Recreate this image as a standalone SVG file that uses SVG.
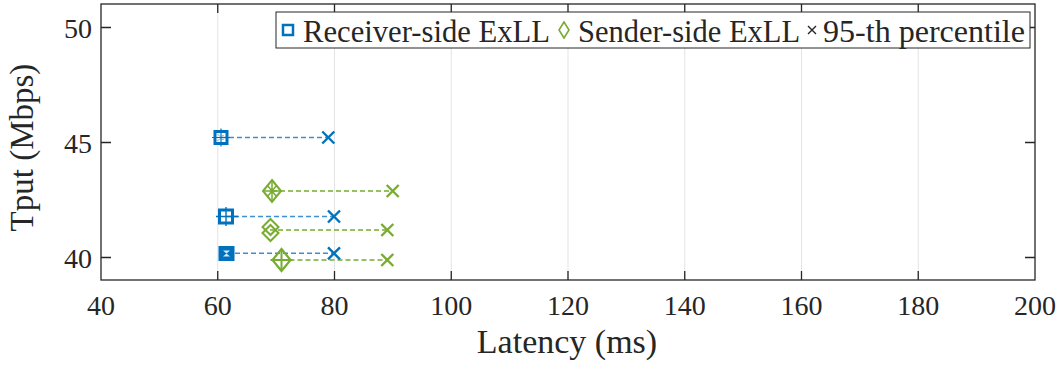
<svg xmlns="http://www.w3.org/2000/svg" width="1064" height="365" viewBox="0 0 1064 365">
  <style>
    .lbl { font-family: "Liberation Serif", "Times New Roman", serif; fill: #262626; }
    .tick { font-size: 28px; }
    .leg { font-size: 31px; }
    .grid { stroke: #e3e3e3; stroke-width: 1; }
    .axis { stroke: #262626; stroke-width: 1.3; fill: none; }
    .blue { stroke: #0072BD; fill: none; }
    .green { stroke: #77AC30; fill: none; }
    .dashb { stroke: #3d8fcf; stroke-width: 1.4; stroke-dasharray: 5 3; }
    .dashg { stroke: #77AC30; stroke-width: 1.4; stroke-dasharray: 5 3; }
    .xm { stroke-width: 2.4; }
  </style>
  <defs>
    <path id="xmark" d="M-6,-6 L6,6 M-6,6 L6,-6"/>
    <path id="dia" d="M0,-11 L9,0 L0,11 L-9,0 Z"/>
  </defs>
  <rect width="1064" height="365" fill="#ffffff"/>

  <!-- vertical grid at x ticks -->
  <g id="grid">
    <line class="grid" x1="217.75" y1="4" x2="217.75" y2="280"/>
    <line class="grid" x1="334.5" y1="4" x2="334.5" y2="280"/>
    <line class="grid" x1="451.25" y1="4" x2="451.25" y2="280"/>
    <line class="grid" x1="568" y1="4" x2="568" y2="280"/>
    <line class="grid" x1="684.75" y1="4" x2="684.75" y2="280"/>
    <line class="grid" x1="801.5" y1="4" x2="801.5" y2="280"/>
    <line class="grid" x1="918.25" y1="4" x2="918.25" y2="280"/>
  </g>

  <!-- axes box and ticks -->
  <g id="axes">
    <rect class="axis" x="101" y="4" width="934" height="276"/>
    <path class="axis" d="M217.75,280v-9 M334.5,280v-9 M451.25,280v-9 M568,280v-9 M684.75,280v-9 M801.5,280v-9 M918.25,280v-9
      M217.75,4v9 M334.5,4v9 M451.25,4v9 M568,4v9 M684.75,4v9 M801.5,4v9 M918.25,4v9
      M101,27.5h10 M101,142.5h10 M101,257.5h10
      M1035,27.5h-10 M1035,142.5h-10 M1035,257.5h-10"/>
  </g>

  <!-- tick labels -->
  <g id="xticklabels" class="lbl tick" text-anchor="middle">
    <text x="101" y="315">40</text>
    <text x="217.75" y="315">60</text>
    <text x="334.5" y="315">80</text>
    <text x="451.25" y="315">100</text>
    <text x="568" y="315">120</text>
    <text x="684.75" y="315">140</text>
    <text x="801.5" y="315">160</text>
    <text x="918.25" y="315">180</text>
    <text x="1035" y="315">200</text>
  </g>
  <g id="yticklabels" class="lbl tick" text-anchor="end">
    <text x="92" y="37.5">50</text>
    <text x="92" y="152.5">45</text>
    <text x="92" y="267.5">40</text>
  </g>

  <!-- axis titles -->
  <text id="xlabel" class="lbl" x="567" y="353" font-size="34" text-anchor="middle">Latency (ms)</text>
  <text id="ylabel" class="lbl" x="0" y="0" font-size="33" text-anchor="middle" transform="translate(33,147.5) rotate(-90)">Tput (Mbps)</text>

  <!-- median-to-95th connectors -->
  <g id="connectors">
    <line class="dashb" x1="221" y1="137.5" x2="328.3" y2="137.5"/>
    <line class="dashb" x1="226" y1="216.5" x2="334" y2="216.5"/>
    <line class="dashb" x1="227" y1="253.3" x2="334" y2="253.3"/>
    <line class="dashg" x1="272" y1="191" x2="392.7" y2="191"/>
    <line class="dashg" x1="270" y1="230" x2="387.3" y2="230"/>
    <line class="dashg" x1="281.5" y1="260" x2="387.3" y2="260"/>
  </g>

  <!-- receiver-side points -->
  <g id="recv1" transform="translate(221,137.5)">
    <path class="blue" stroke-width="1.2" d="M-9,0H9 M0,-9V9"/>
    <rect class="blue" x="-6" y="-6" width="12" height="12" stroke-width="3"/>
    <path class="blue" stroke-width="1" stroke-dasharray="1.5 1.5" d="M-3,-3L3,3 M-3,3L3,-3"/>
  </g>
  <g id="recv2" transform="translate(226,216.5)">
    <path class="blue" stroke-width="1.4" d="M-10,0H12 M0,-9.5V9.5"/>
    <rect class="blue" x="-6.5" y="-6.5" width="13" height="13" stroke-width="3"/>
  </g>
  <g id="recv3" transform="translate(226.5,253.5)">
    <rect x="-8" y="-7.5" width="16" height="15" fill="#0072BD"/>
    <path d="M-3.5,-3 L3.5,-3 L-3.5,3 L3.5,3 Z" fill="#ffffff" opacity="0.85"/>
  </g>
  <g id="recv95" class="blue xm">
    <use href="#xmark" x="328.3" y="137.5"/>
    <use href="#xmark" x="334" y="216.5"/>
    <use href="#xmark" x="334" y="253.3"/>
  </g>

  <!-- sender-side points -->
  <g id="send1" transform="translate(272,191)">
    <use href="#dia" class="green" stroke-width="2"/>
    <path class="green" stroke-width="1.5" d="M-9,0H9 M0,-11V11 M-4.5,-5.5L4.5,5.5 M-4.5,5.5L4.5,-5.5"/>
  </g>
  <g id="send2" transform="translate(270.5,230)">
    <path class="green" stroke-width="2" d="M0,-11 L8,-3 L0,5 L-8,-3 Z M0,-5 L8,3 L0,11 L-8,3 Z"/>
  </g>
  <g id="send3" transform="translate(281.5,260)">
    <use href="#dia" class="green" stroke-width="2.2"/>
    <path class="green" stroke-width="2" d="M-11,0H11 M0,-11V11"/>
  </g>
  <g id="send95" class="green xm">
    <use href="#xmark" x="392.7" y="191"/>
    <use href="#xmark" x="387.3" y="230"/>
    <use href="#xmark" x="387.3" y="260"/>
  </g>

  <!-- legend -->
  <g id="legend">
    <rect x="276" y="12" width="754" height="36" fill="#ffffff" stroke="#262626" stroke-width="1"/>
    <rect class="blue" x="283" y="25" width="10" height="10" stroke-width="2.5"/>
    <text class="lbl leg" x="303" y="42" textLength="247" lengthAdjust="spacingAndGlyphs">Receiver-side ExLL</text>
    <path class="green" stroke-width="1.6" d="M564,22 L569,30 L564,38 L559,30 Z"/>
    <text class="lbl leg" x="578" y="42" textLength="222" lengthAdjust="spacingAndGlyphs">Sender-side ExLL</text>
    <path stroke="#262626" stroke-width="1.4" d="M808,26 L816,34 M808,34 L816,26"/>
    <text class="lbl leg" x="823" y="42" textLength="202" lengthAdjust="spacingAndGlyphs">95-th percentile</text>
  </g>
</svg>
